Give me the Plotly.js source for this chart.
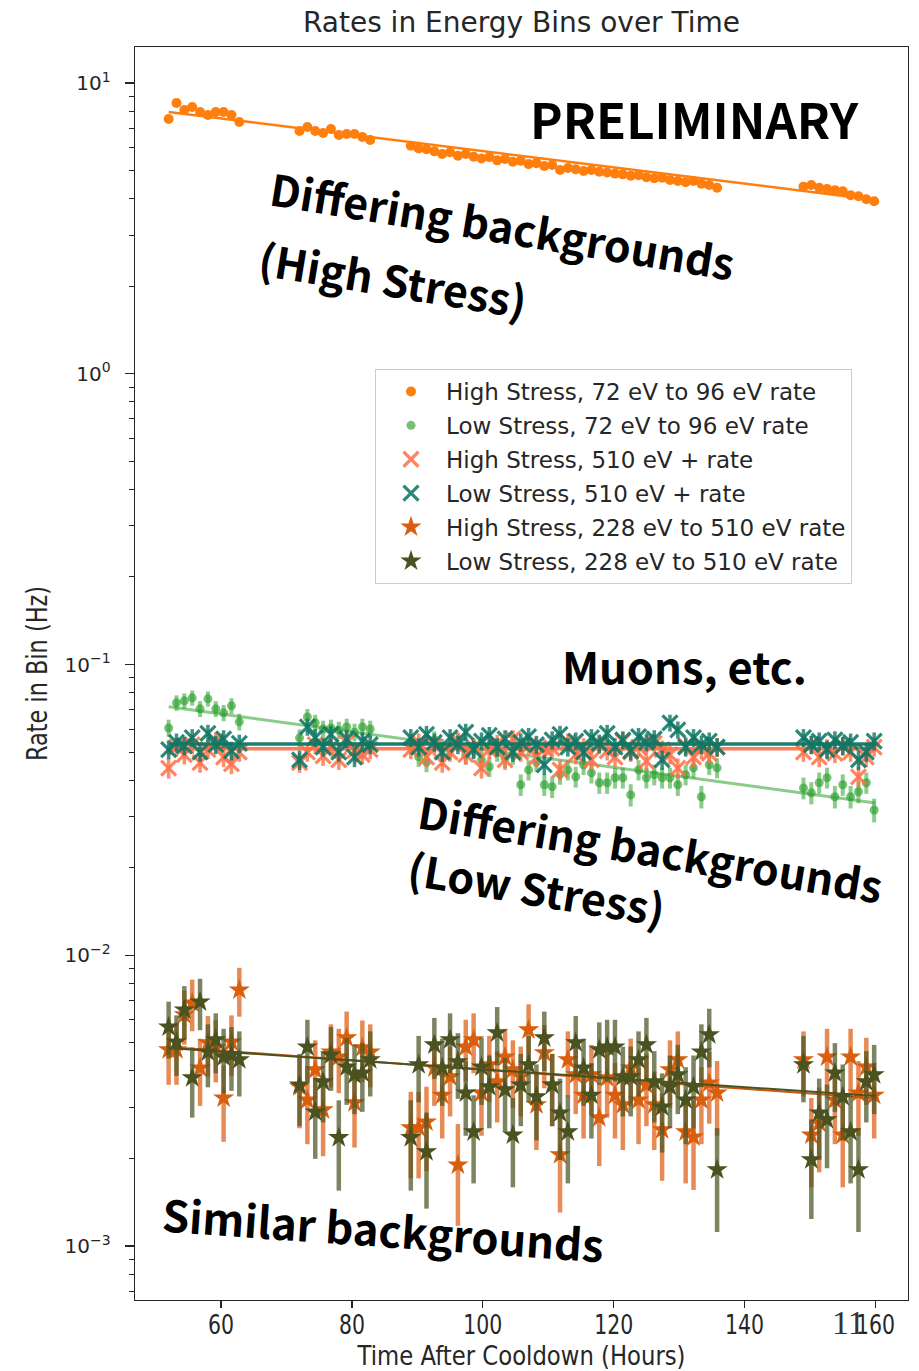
<!DOCTYPE html>
<html><head><meta charset="utf-8">
<script src="https://cdn.plot.ly/plotly-3.0.1.min.js"></script>
<style>html,body{margin:0;padding:0;background:#fff}</style>
</head><body>
<div id="chart" style="width:919px;height:1371px"></div>
<script>
// ---- data ----
const hours = [
  52.0, 53.2, 54.4, 55.6, 56.8, 58.0, 59.2, 60.4, 61.6, 62.8,
  72.0, 73.2, 74.4, 75.6, 76.8, 78.0, 79.2, 80.4, 81.6, 82.8,
  89.0, 90.2, 91.4, 92.6, 93.8, 95.0, 96.2, 97.4, 98.6, 99.8,
  101.0, 102.2, 103.4, 104.6, 105.8, 107.0, 108.2, 109.4, 110.6, 111.8,
  113.0, 114.2, 115.4, 116.6, 117.8, 119.0, 120.2, 121.4, 122.6, 123.8,
  125.0, 126.2, 127.4, 128.6, 129.8, 131.0, 132.2, 133.4, 134.6, 135.8,
  149.0, 150.2, 151.4, 152.6, 153.8, 155.0, 156.2, 157.4, 158.6, 159.8
];
const highStress72 = [
  7.52, 8.54, 8.07, 8.27, 7.95, 7.76, 7.95, 7.95, 7.76, 7.34,
  6.84, 7.06, 6.84, 6.73, 6.95, 6.63, 6.68, 6.68, 6.52, 6.37,
  6.08, 5.95, 5.92, 5.82, 5.70, 5.78, 5.62, 5.70, 5.58, 5.50,
  5.56, 5.42, 5.48, 5.36, 5.40, 5.26, 5.30, 5.18, 5.22, 5.02,
  5.10, 5.05, 4.98, 5.02, 4.95, 4.92, 4.88, 4.85, 4.80, 4.82,
  4.74, 4.70, 4.72, 4.64, 4.60, 4.56, 4.60, 4.50, 4.46, 4.36,
  4.40, 4.46, 4.36, 4.32, 4.28, 4.24, 4.11, 4.08, 3.98, 3.92
];
const lowStress72 = [
  0.0605, 0.0738, 0.0750, 0.0768, 0.0704, 0.0762, 0.0704, 0.0682, 0.0721, 0.0635,
  0.0559, 0.0660, 0.0630, 0.0600, 0.0605, 0.0595, 0.0610, 0.0585, 0.0610, 0.0600,
  0.0529, 0.0481, 0.0462, 0.0550, 0.0517, 0.0508, 0.0541, 0.0489, 0.0517, 0.0470,
  0.0445, 0.0500, 0.0477, 0.0489, 0.0386, 0.0434, 0.0462, 0.0386, 0.0380, 0.0420,
  0.0434, 0.0411, 0.0452, 0.0424, 0.0392, 0.0392, 0.0408, 0.0408, 0.0356, 0.0434,
  0.0408, 0.0418, 0.0408, 0.0408, 0.0386, 0.0418, 0.0441, 0.0351, 0.0452, 0.0441,
  0.0376, 0.0362, 0.0392, 0.0408, 0.0351, 0.0386, 0.0351, 0.0365, 0.0392, 0.0316
];
const highStress510 = [
  0.0440, 0.0520, 0.0490, 0.0530, 0.0460, 0.0510, 0.0545, 0.0480, 0.0455, 0.0500,
  0.0460, 0.0500, 0.0530, 0.0485, 0.0520, 0.0470, 0.0540, 0.0505, 0.0490, 0.0510,
  0.0510, 0.0540, 0.0480, 0.0525, 0.0460, 0.0500, 0.0545, 0.0490, 0.0520, 0.0440,
  0.0510, 0.0535, 0.0470, 0.0555, 0.0500, 0.0525, 0.0480, 0.0515, 0.0515, 0.0434,
  0.0540, 0.0490, 0.0520, 0.0470, 0.0530, 0.0505, 0.0480, 0.0545, 0.0500, 0.0520,
  0.0465, 0.0535, 0.0510, 0.0490, 0.0440, 0.0525, 0.0480, 0.0510, 0.0495, 0.0520,
  0.0500, 0.0530, 0.0480, 0.0515, 0.0495, 0.0525, 0.0500, 0.0411, 0.0480, 0.0520
];
const lowStress510 = [
  0.0510, 0.0540, 0.0525, 0.0560, 0.0500, 0.0580, 0.0530, 0.0555, 0.0505, 0.0535,
  0.0470, 0.0610, 0.0560, 0.0520, 0.0575, 0.0500, 0.0555, 0.0480, 0.0545, 0.0530,
  0.0560, 0.0520, 0.0575, 0.0540, 0.0500, 0.0560, 0.0530, 0.0585, 0.0510, 0.0545,
  0.0570, 0.0520, 0.0555, 0.0500, 0.0540, 0.0565, 0.0530, 0.0452, 0.0550, 0.0575,
  0.0520, 0.0545, 0.0500, 0.0560, 0.0535, 0.0580, 0.0520, 0.0550, 0.0505, 0.0565,
  0.0540, 0.0555, 0.0470, 0.0630, 0.0596, 0.0520, 0.0560, 0.0530, 0.0545, 0.0520,
  0.0560, 0.0530, 0.0545, 0.0510, 0.0550, 0.0525, 0.0540, 0.0470, 0.0500, 0.0545
];
const highStress228 = [
  0.00473, 0.00473, 0.00624, 0.00686, 0.00410, 0.00500, 0.00481, 0.00323, 0.00503, 0.00760,
  0.00353, 0.00318, 0.00404, 0.00294, 0.00465, 0.00447, 0.00520, 0.00311, 0.00481, 0.00465,
  0.00255, 0.00255, 0.00267, 0.00410, 0.00330, 0.00382, 0.00190, 0.00484, 0.00512, 0.00336,
  0.00420, 0.00367, 0.00447, 0.00404, 0.00382, 0.00554, 0.00306, 0.00462, 0.00358, 0.00206,
  0.00437, 0.00388, 0.00330, 0.00388, 0.00276, 0.00379, 0.00330, 0.00306, 0.00410, 0.00318,
  0.00358, 0.00306, 0.00251, 0.00404, 0.00437, 0.00247, 0.00237, 0.00318, 0.00364, 0.00336,
  0.00437, 0.00241, 0.00265, 0.00447, 0.00318, 0.00241, 0.00447, 0.00336, 0.00413, 0.00330
];
const lowStress228 = [
  0.00567, 0.00503, 0.00649, 0.00379, 0.00691, 0.00465, 0.00512, 0.00447, 0.00454, 0.00437,
  0.00358, 0.00484, 0.00289, 0.00367, 0.00454, 0.00236, 0.00413, 0.00388, 0.00394, 0.00437,
  0.00236, 0.00420, 0.00211, 0.00492, 0.00410, 0.00512, 0.00430, 0.00336, 0.00247, 0.00413,
  0.00353, 0.00541, 0.00345, 0.00241, 0.00358, 0.00420, 0.00326, 0.00520, 0.00358, 0.00287,
  0.00247, 0.00500, 0.00410, 0.00330, 0.00473, 0.00484, 0.00484, 0.00382, 0.00382, 0.00437,
  0.00492, 0.00367, 0.00301, 0.00353, 0.00388, 0.00318, 0.00353, 0.00465, 0.00533, 0.00183,
  0.00420, 0.00198, 0.00287, 0.00272, 0.00394, 0.00326, 0.00247, 0.00183, 0.00367, 0.00388
];
// fitted trends (end values)
const fitHours = [52, 160];
const fitHighStress72 = [7.95, 3.96];
const fitLowStress72 = [0.0715, 0.0334];
const fitHighStress510 = [0.0513, 0.0513];
const fitLowStress510 = [0.0533, 0.0533];
const fitHighStress228 = [0.00484, 0.00322];
const fitLowStress228 = [0.00480, 0.00328];

const seriesNames = [
  'High Stress, 72 eV to 96 eV rate',
  'Low Stress, 72 eV to 96 eV rate',
  'High Stress, 510 eV + rate',
  'Low Stress, 510 eV + rate',
  'High Stress, 228 eV to 510 eV rate',
  'Low Stress, 228 eV to 510 eV rate'
];
const xTickVals = [60, 80, 100, 120, 140, 160];
const yTickVals = [0.001, 0.01, 0.1, 1, 10];
const yTickText = ['10<sup>\u22123</sup>', '10<sup>\u22122</sup>', '10<sup>\u22121</sup>', '10<sup>0</sup>', '10<sup>1</sup>'];
const BIN_SECONDS = 3600; // ~1 h bins, Poisson errors sqrt(rate / livetime)

// ---- helpers ----
const poissonErr = arr => arr.map(v => Math.sqrt(v / BIN_SECONDS));
const W = 919, H = 1371, ML = 135, MR = 11, MT = 47, MB = 71;
const PW = W - ML - MR, PH = H - MT - MB;
const px = x => (x - ML) / PW;
const py = y => 1 - (y - MT) / PH;

const styles = [
  {c: '#ff7f0e', ec: '#ff7f0e', sym: 'circle', size: 10, et: 2, fitc: '#ff7f0e', fitw: 2.5},
  {c: 'rgba(44,160,44,0.65)', ec: 'rgba(44,160,44,0.55)', sym: 'circle', size: 9, et: 4, fitc: 'rgba(44,160,44,0.55)', fitw: 3},
  {c: 'rgba(255,112,70,0.85)', ec: 'rgba(255,112,70,0.8)', sym: 'x-thin', size: 15, et: 3.5, fitc: 'rgba(255,112,70,0.9)', fitw: 3.5},
  {c: 'rgba(16,118,100,0.88)', ec: 'rgba(16,118,100,0.8)', sym: 'x-thin', size: 15, et: 3.5, fitc: 'rgba(16,118,100,0.95)', fitw: 3.5},
  {c: '#d95f0e', ec: 'rgba(222,100,30,0.75)', sym: 'star', size: 16, et: 4.5, fitc: '#c8570e', fitw: 2},
  {c: '#4a5220', ec: 'rgba(75,85,35,0.72)', sym: 'star', size: 16, et: 4.5, fitc: '#4a5220', fitw: 2}
];
const seriesVals = [highStress72, lowStress72, highStress510, lowStress510, highStress228, lowStress228];
const fitVals = [fitHighStress72, fitLowStress72, fitHighStress510, fitLowStress510, fitHighStress228, fitLowStress228];

const traces = [];
seriesVals.forEach((vals, i) => {
  const s = styles[i];
  const thin = s.sym === 'x-thin';
  traces.push({
    type: 'scatter', mode: 'markers', x: hours, y: vals, name: seriesNames[i],
    legendgroup: 'g' + i,
    marker: thin ? {symbol: s.sym, size: s.size, color: s.c, line: {color: s.c, width: 3.2}}
                 : {symbol: s.sym, size: s.size, color: s.c, line: {width: 0}},
    error_y: {type: 'data', array: poissonErr(vals), visible: true, color: s.ec, thickness: s.et, width: 0}
  });
  traces.push({
    type: 'scatter', mode: 'lines', x: fitHours, y: fitVals[i], showlegend: false,
    legendgroup: 'g' + i, hoverinfo: 'skip',
    line: {color: s.fitc, width: s.fitw}
  });
});

const minorVals = [];
[0.0001, 0.001, 0.01, 0.1, 1, 10].forEach(d => { for (let k = 2; k <= 9; k++) minorVals.push(d * k); });

const annFont = 'Noto Sans CJK JP, Noto Sans, sans-serif';
const big = (text, x, y, ang, size) => ({
  text: '<b>' + text + '</b>', xref: 'paper', yref: 'paper', x: px(x), y: py(y),
  xanchor: 'center', yanchor: 'middle', showarrow: false, textangle: ang,
  font: {family: annFont, size: size, color: '#000'}
});

const layout = {
  width: W, height: H,
  margin: {l: ML, r: MR, t: MT, b: MB, pad: 0},
  paper_bgcolor: '#fff', plot_bgcolor: '#fff',
  showlegend: true,
  title: {text: 'Rates in Energy Bins over Time', x: 0.5, xref: 'paper', xanchor: 'center',
          y: 1 - 22 / H, yref: 'container', yanchor: 'middle',
          font: {family: 'DejaVu Sans', size: 28, color: '#262626'}},
  xaxis: {
    range: [46.86, 164.97], tickvals: xTickVals, ticks: 'outside', ticklen: 7, tickwidth: 1.3,
    tickcolor: '#262626', showline: true, linecolor: '#262626', linewidth: 1.3, mirror: true,
    showgrid: false, zeroline: false, ticklabelstandoff: -7,
    tickfont: {family: 'DejaVu Sans', size: 27, color: '#262626'},
    title: {text: 'Time After Cooldown (Hours)', standoff: 19,
            font: {family: 'DejaVu Sans', size: 27, color: '#262626'}}
  },
  yaxis: {
    type: 'log', range: [-3.1857, 1.1238], tickvals: yTickVals, ticktext: yTickText,
    ticks: 'outside', ticklen: 9, tickwidth: 1.3, tickcolor: '#262626', ticklabelstandoff: 10,
    showline: true, linecolor: '#262626', linewidth: 1.3, mirror: true,
    showgrid: false, zeroline: false,
    minor: {tickvals: minorVals, ticks: 'outside', ticklen: 5, tickwidth: 1, tickcolor: '#262626', showgrid: false},
    tickfont: {family: 'DejaVu Sans', size: 20, color: '#262626'},
    title: {text: 'Rate in Bin (Hz)', standoff: 8,
            font: {family: 'DejaVu Sans', size: 28, color: '#262626'}}
  },
  legend: {
    x: px(375), y: py(369), xanchor: 'left', yanchor: 'top',
    bgcolor: 'rgba(255,255,255,0.85)', bordercolor: '#cccccc', borderwidth: 1,
    font: {family: 'DejaVu Sans', size: 23, color: '#262626'},
    traceorder: 'grouped', tracegroupgap: 1, itemwidth: 60
  },
  annotations: [
    big('PRELIMINARY', 694, 118, 0, 49),
    big('Differing backgrounds', 502, 224, 9.3, 43),
    big('(High Stress)', 393, 278, 9.3, 43),
    big('Muons, etc.', 684, 666, 0, 43.5),
    big('Differing backgrounds', 650, 847, 9.3, 43),
    big('(Low Stress)', 537, 887, 9.3, 43),
    big('Similar backgrounds', 383, 1228, 4, 43.5),
    {text: '11', xref: 'paper', yref: 'paper', x: px(848), y: py(1322), xanchor: 'center', yanchor: 'middle',
     showarrow: false, font: {family: 'Liberation Serif, serif', size: 34, color: '#333'}}
  ]
};

// condensed look of the original axis texts (squeeze glyphs to the widths seen in the picture)
function condense(gd) {
  const squeeze = (t, len) => { t.setAttribute('textLength', len); t.setAttribute('lengthAdjust', 'spacingAndGlyphs'); };
  gd.querySelectorAll('.xtick text').forEach(t => squeeze(t, 13 * t.textContent.length));
  gd.querySelectorAll('.g-xtitle text').forEach(t => squeeze(t, 328));
  gd.querySelectorAll('.g-ytitle text').forEach(t => squeeze(t, 175));
}

Plotly.newPlot('chart', traces, layout, {displayModeBar: false, staticPlot: true}).then(condense);
</script>
</body></html>
